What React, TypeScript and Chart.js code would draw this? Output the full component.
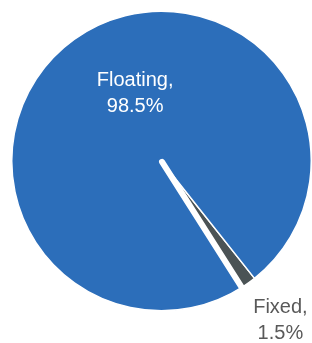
import React, { useEffect, useRef } from "react";
import { Chart, registerables } from "chart.js";

Chart.register(...registerables);

const categories = ["Fixed", "Floating"];
const shares = [1.5, 98.5];
const sliceColors = ["#4B5355", "#2C6EBA"];
const labelColors = ["#595959", "#FFFFFF"];

const FONT = '20px "Liberation Sans", Arial, sans-serif';

const pieDecor = {
  id: "pieDecor",
  afterDatasetsDraw(chart: any, _args: any, opts: any) {
    const ctx = chart.ctx;
    const meta = chart.getDatasetMeta(0);
    const arcs = meta.data;
    if (!arcs.length) return;
    const a0: any = arcs[0];
    const cx = a0.x;
    const cy = a0.y;
    const R = a0.outerRadius;
    // white separator along start edge of the large slice
    const big: any = arcs[1];
    const ang = big.startAngle + opts.sepShift;
    ctx.save();
    ctx.strokeStyle = "#FFFFFF";
    ctx.lineWidth = opts.sepWidth;
    ctx.lineCap = "round";
    ctx.beginPath();
    ctx.moveTo(cx + Math.cos(ang) * 1, cy + Math.sin(ang) * 1);
    ctx.lineTo(cx + Math.cos(ang) * (R + 4), cy + Math.sin(ang) * (R + 4));
    ctx.stroke();
    ctx.restore();

    // labels
    ctx.save();
    ctx.font = FONT;
    ctx.textAlign = "center";
    ctx.textBaseline = "alphabetic";
    categories.forEach((cat, i) => {
      const pos = opts.labelPos[i];
      const x = cx + pos[0] * R;
      const y = cy + pos[1] * R;
      ctx.fillStyle = labelColors[i];
      ctx.fillText(cat + ",", x, y);
      ctx.fillText(shares[i].toFixed(1) + "%", x, y + opts.lineHeight);
    });
    ctx.restore();
  },
};

export default function App() {
  const ref = useRef<HTMLCanvasElement | null>(null);
  useEffect(() => {
    if (!ref.current) return;
    const chart = new Chart(ref.current, {
      type: "pie",
      data: {
        labels: categories,
        datasets: [
          {
            data: shares,
            backgroundColor: sliceColors,
            borderColor: "#FFFFFF",
            borderWidth: 1.5,
          },
        ],
      },
      options: {
        responsive: false,
        animation: false,
        rotation: 141.6,
        layout: { padding: { left: 11, right: 0, top: 10, bottom: 31 } },
        plugins: {
          legend: { display: false },
          tooltip: { enabled: false },
          pieDecor: {
            sepWidth: 6,
            sepShift: 0.01,
            lineHeight: 26,
            labelPos: [
              [0.794, 1.012],
              [-0.176, -0.5],
            ],
          },
        } as any,
      },
      plugins: [pieDecor],
    });
    return () => chart.destroy();
  }, []);
  return (
    <div style={{ position: "fixed", left: 0, top: 0, width: 312, height: 343, background: "#fff" }}>
      <canvas ref={ref} width={312} height={343} style={{ display: "block" }} />
    </div>
  );
}
